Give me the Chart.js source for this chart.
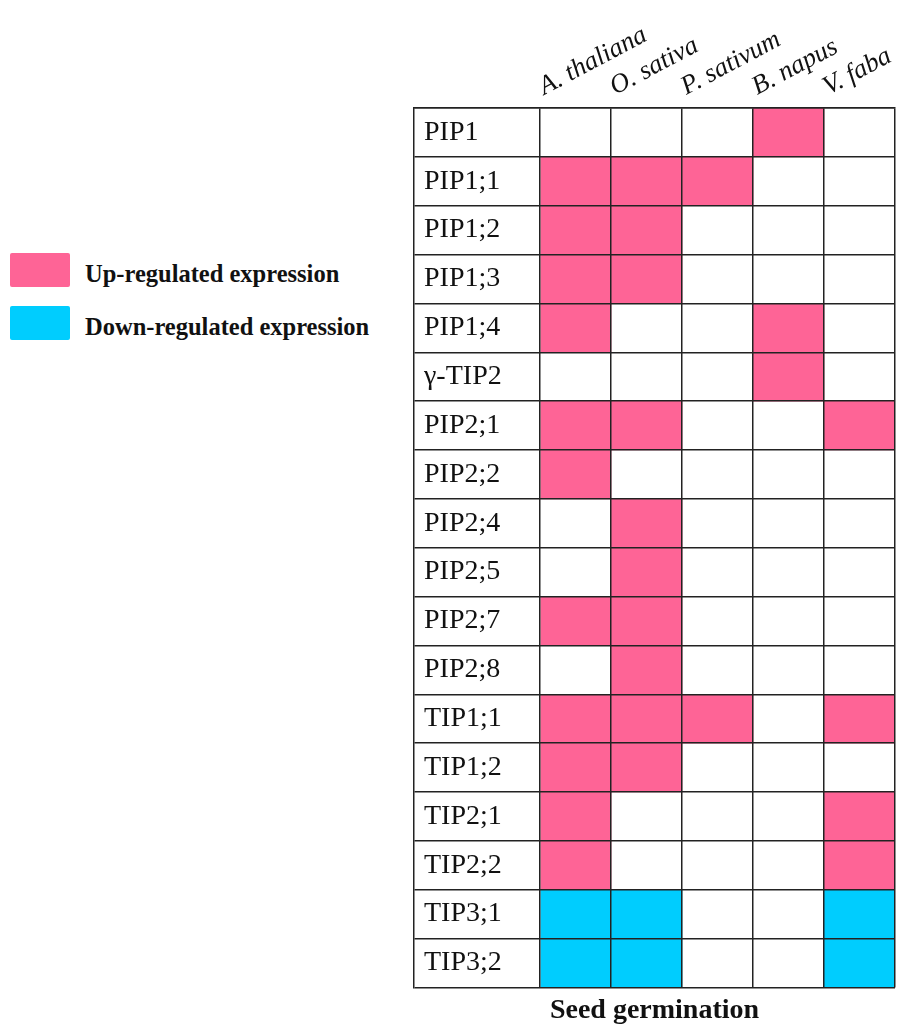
<!DOCTYPE html>
<html>
<head>
<meta charset="utf-8">
<script src="https://cdn.jsdelivr.net/npm/chart.js@4.4.1/dist/chart.umd.min.js"></script>
<style>
  body { margin: 0; background: #fff; width: 897px; height: 1028px; position: relative; overflow: hidden; }
  #wrap { position: absolute; left: 412px; top: 0; width: 485px; height: 1028px; }
  .key { position: absolute; left: 10px; width: 60px; height: 34px; border-radius: 2px; }
  .keytxt { position: absolute; left: 85px; line-height: 34px; font: bold 24.5px "Liberation Serif", serif; color: #111; white-space: nowrap; }
</style>
</head>
<body>
<div class="key" style="top:253px;background:#fe6496"></div>
<div class="keytxt" style="top:260px">Up-regulated expression</div>
<div class="key" style="top:306px;background:#00cdfe"></div>
<div class="keytxt" style="top:313px">Down-regulated expression</div>
<div id="wrap"><canvas id="grid"></canvas></div>
<script>
// rows of the table
var genes = ['PIP1', 'PIP1;1', 'PIP1;2', 'PIP1;3', 'PIP1;4', 'γ-TIP2', 'PIP2;1', 'PIP2;2', 'PIP2;4',
  'PIP2;5', 'PIP2;7', 'PIP2;8', 'TIP1;1', 'TIP1;2', 'TIP2;1', 'TIP2;2', 'TIP3;1', 'TIP3;2'];
var species = ['A. thaliana', 'O. sativa', 'P. sativum', 'B. napus', 'V. faba'];

// 1 = up-regulated, -1 = down-regulated, 0 = nothing reported
var thaliana = [0, 1, 1, 1, 1, 0, 1, 1, 0, 0, 1, 0, 1, 1, 1, 1, -1, -1];
var sativa   = [0, 1, 1, 1, 0, 0, 1, 0, 1, 1, 1, 1, 1, 1, 0, 0, -1, -1];
var sativum  = [0, 1, 0, 0, 0, 0, 0, 0, 0, 0, 0, 0, 1, 0, 0, 0, 0, 0];
var napus    = [1, 0, 0, 0, 1, 1, 0, 0, 0, 0, 0, 0, 0, 0, 0, 0, 0, 0];
var faba     = [0, 0, 0, 0, 0, 0, 1, 0, 0, 0, 0, 0, 1, 0, 1, 1, -1, -1];

var columns = [thaliana, sativa, sativum, napus, faba];
var UP = '#fe6496', DOWN = '#00cdfe';
var lineCol = '#222';

var datasets = columns.map(function (col, j) {
  return {
    label: species[j],
    data: col.map(function (v) { return v ? [j, j + 1] : null; }),
    backgroundColor: col.map(function (v) { return v > 0 ? UP : DOWN; }),
    borderWidth: 0,
    grouped: false,
    barPercentage: 1,
    categoryPercentage: 1
  };
});

new Chart(document.getElementById('grid'), {
  type: 'bar',
  data: { labels: genes, datasets: datasets },
  options: {
    indexAxis: 'y',
    responsive: true,
    maintainAspectRatio: false,
    animation: false,
    layout: { padding: { left: 2, right: 2, top: 0, bottom: 0 } },
    plugins: {
      legend: { display: false },
      tooltip: { enabled: false },
      title: {
        display: true,
        position: 'bottom',
        text: 'Seed germination',
        color: '#111',
        font: { family: 'Liberation Serif', size: 28, weight: 'bold' },
        padding: { top: 7, bottom: 0 }
      }
    },
    scales: {
      x: {
        type: 'linear',
        position: 'top',
        min: -1.775,
        max: 5,
        afterBuildTicks: function (s) {
          s.ticks = [0, 1, 2, 3, 4, 5].map(function (v) { return { value: v }; });
        },
        afterFit: function (s) {
          s.height = 108;
          s.paddingLeft = 0;
          s.paddingRight = 0;
        },
        grid: { color: lineCol, lineWidth: 1.5, drawTicks: false, z: 1 },
        border: { color: lineCol, width: 1.5, z: 1 },
        ticks: {
          minRotation: 28,
          maxRotation: 28,
          padding: 5,
          labelOffset: 16,
          color: '#111',
          font: { family: 'Liberation Serif', size: 26.5, style: 'italic' },
          callback: function (v) { return species[v] || ''; }
        }
      },
      y: {
        type: 'category',
        offset: true,
        afterFit: function (s) { s.width = 0; },
        grid: { offset: true, color: lineCol, lineWidth: 1.5, drawTicks: false, z: 1 },
        border: { color: lineCol, width: 1.5, z: 1 },
        ticks: {
          mirror: true,
          padding: 10,
          color: '#111',
          font: { family: 'Liberation Serif', size: 28 }
        }
      }
    }
  }
});
</script>
</body>
</html>
